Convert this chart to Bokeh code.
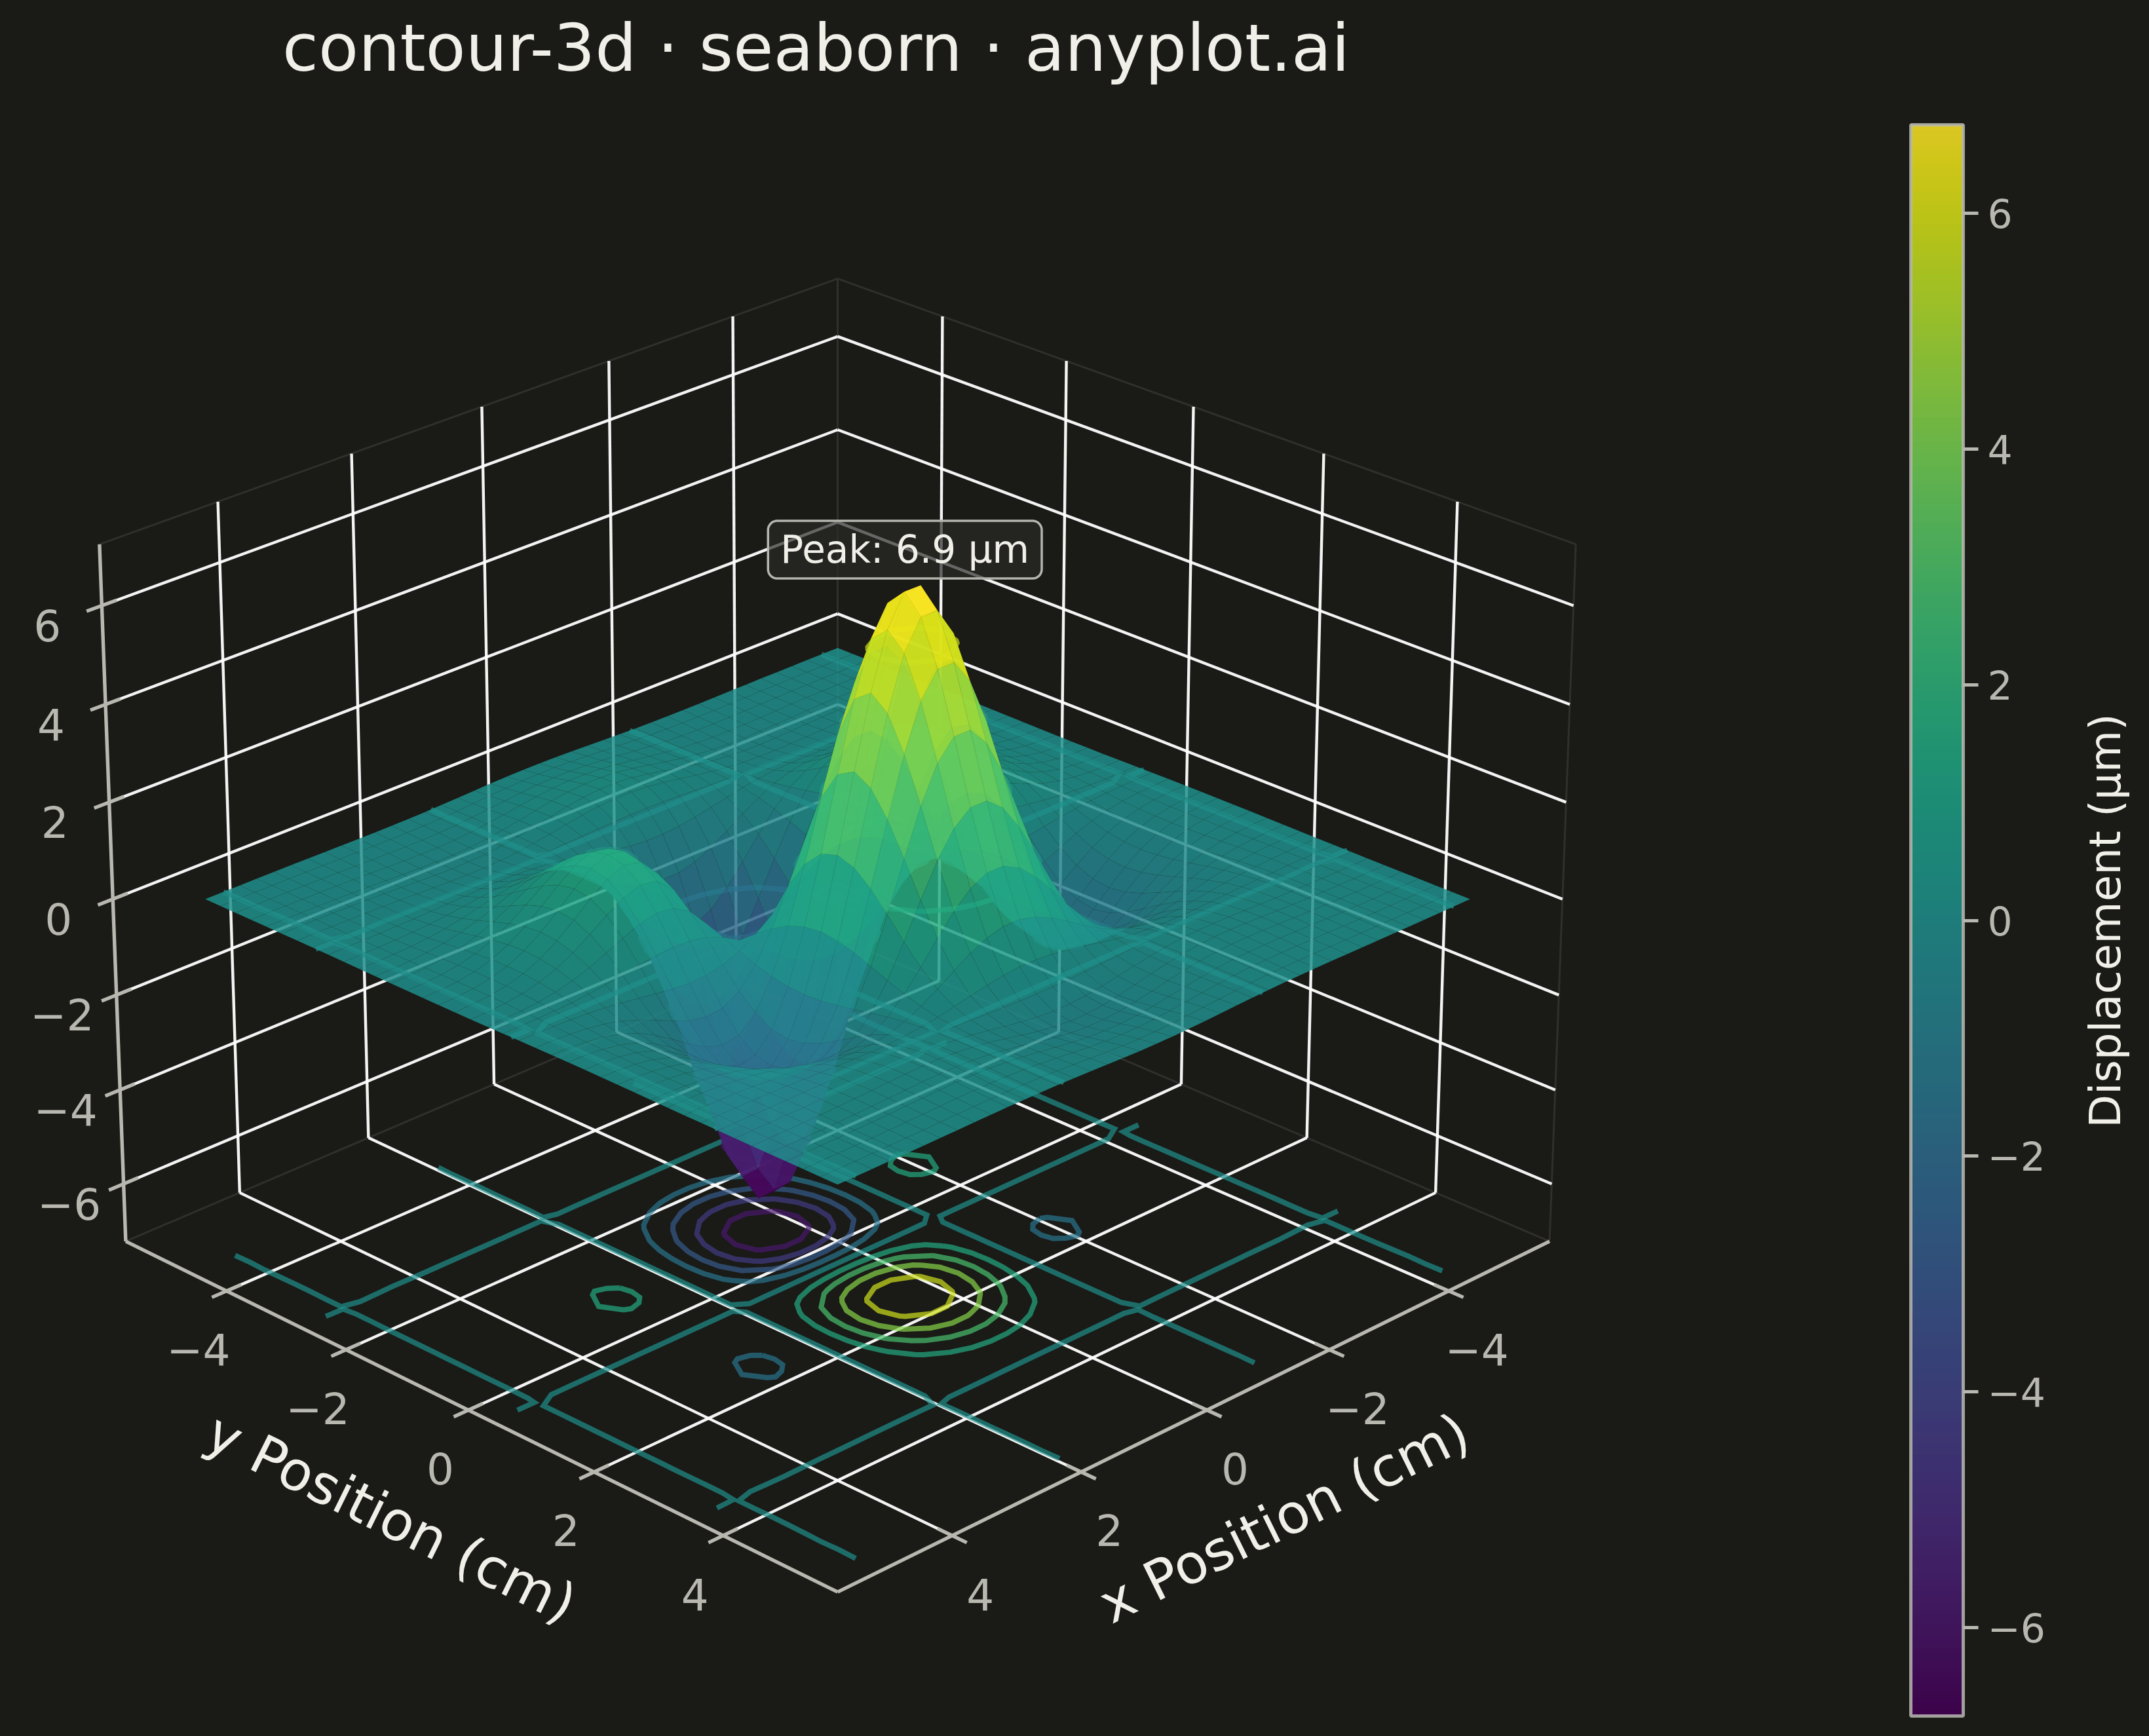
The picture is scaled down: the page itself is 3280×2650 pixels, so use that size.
from collections import defaultdict
import numpy as np
from bokeh.core.properties import value
from bokeh.embed import file_html
from bokeh.models import ColorBar, ColumnDataSource, FixedTicker, Label, LinearColorMapper, Range1d
from bokeh.palettes import Viridis256
from bokeh.plotting import figure
from bokeh.resources import INLINE

# ---------- chart values ----------
title_text = "contour-3d · seaborn · anyplot.ai"
x_label = "x Position (cm)"
y_label = "y Position (cm)"
cbar_label = "Displacement (µm)"
peak_text = "Peak: 6.9 µm"
xy_ticks = [-4, -2, 0, 2, 4]
z_ticks = [-6, -4, -2, 0, 2, 4, 6]
cbar_ticks = [-6, -4, -2, 0, 2, 4, 6]
color_limit = 6.75
contour_levels = [-5.8, -4.3, -2.9, -1.5, 0.0, 1.5, 2.9, 4.3, 5.8]
floor_z = -7.7
peak_x, peak_y, peak_z = 0.128, 1.154, 6.93

grid_pos = [0.128, 0.385, 0.641, 0.897, 1.154, 1.410, 1.667, 1.923, 2.179, 2.436,
            2.692, 2.949, 3.205, 3.462, 3.718, 3.974, 4.231, 4.487, 4.744, 5.0]
# heights (um) for x >= 0 (rows) and y >= 0 (columns); the picture is even in x and odd in y
z_quadrant = [
 [1.258,3.603,5.445,6.574,6.927,6.556,5.645,4.428,3.137,1.954,1.007,.331,-.080,-.282,-.339,-.310,-.244,-.171,-.110,-.063],
 [1.145,3.279,4.956,5.983,6.305,5.967,5.138,4.030,2.855,1.779,.917,.301,-.073,-.256,-.309,-.283,-.222,-.156,-.100,-.058],
 [.940,2.691,4.067,4.910,5.174,4.896,4.216,3.307,2.343,1.460,.752,.247,-.060,-.210,-.253,-.232,-.182,-.128,-.082,-.047],
 [.677,1.937,2.928,3.534,3.725,3.525,3.035,2.381,1.686,1.051,.542,.178,-.043,-.151,-.182,-.167,-.131,-.092,-.059,-.034],
 [.395,1.130,1.708,2.062,2.173,2.057,1.771,1.389,.984,.613,.316,.104,-.025,-.088,-.106,-.097,-.077,-.054,-.034,-.020],
 [.137,.392,.593,.716,.754,.714,.615,.482,.341,.213,.110,.036,-.009,-.031,-.037,-.034,-.027,-.019,-.012,-.007],
 [-.070,-.201,-.303,-.366,-.386,-.365,-.315,-.247,-.175,-.109,-.056,-.018,.004,.016,.019,.017,.014,.010,.006,.004],
 [-.209,-.600,-.906,-1.094,-1.153,-1.091,-.939,-.737,-.522,-.325,-.168,-.055,.013,.047,.056,.052,.041,.028,.018,.011],
 [-.282,-.807,-1.219,-1.472,-1.551,-1.468,-1.264,-.991,-.702,-.438,-.226,-.074,.018,.063,.076,.069,.055,.038,.025,.014],
 [-.296,-.847,-1.280,-1.545,-1.629,-1.541,-1.327,-1.041,-.737,-.459,-.237,-.078,.019,.066,.080,.073,.057,.040,.026,.015],
 [-.269,-.771,-1.164,-1.406,-1.482,-1.402,-1.207,-.947,-.671,-.418,-.215,-.071,.017,.060,.073,.066,.052,.037,.023,.014],
 [-.219,-.628,-.950,-1.146,-1.208,-1.143,-.985,-.772,-.547,-.341,-.176,-.058,.014,.049,.059,.054,.043,.030,.019,.011],
 [-.163,-.467,-.705,-.851,-.897,-.849,-.731,-.573,-.406,-.253,-.130,-.043,.010,.036,.044,.040,.032,.022,.014,.008],
 [-.110,-.315,-.476,-.575,-.605,-.573,-.493,-.387,-.274,-.171,-.088,-.029,.007,.025,.030,.027,.021,.015,.010,.006],
 [-.067,-.192,-.290,-.350,-.369,-.350,-.301,-.236,-.167,-.104,-.054,-.018,.004,.015,.018,.017,.013,.009,.006,.003],
 [-.036,-.104,-.158,-.190,-.200,-.190,-.163,-.128,-.091,-.057,-.029,-.010,.002,.008,.010,.009,.007,.005,.003,.002],
 [-.017,-.047,-.072,-.086,-.091,-.086,-.074,-.058,-.041,-.026,-.013,-.004,.001,.004,.004,.004,.003,.002,.001,.001],
 [-.005,-.015,-.022,-.027,-.028,-.027,-.023,-.018,-.013,-.008,-.004,-.001,.0003,.001,.001,.001,.001,.001,.0004,.0003],
 [.0004,.0013,.0019,.0023,.0025,.0023,.0020,.0016,.0011,.0007,.0004,.0001,-.00003,-.0001,-.00012,-.00011,-.00009,-.00006,-.00004,-.00002],
 [.0024,.0069,.0105,.0126,.0133,.0126,.0109,.0085,.0060,.0038,.0019,.0006,-.00015,-.0005,-.0007,-.0006,-.0005,-.0003,-.0002,-.0001],
]

# ---------- view and style ----------
W, H = 3272, 2642
BG = "#1a1a17"
TICK_COL = "#b8b8b0"
TEXT_COL = "#f0efe8"
FONT = value("DejaVu Sans")
ELEV = np.radians(25.0)
AZ_SQ = np.sqrt(0.5)
BOX_A, BOX_H, DIST = 0.5714, 0.4286, 10.0
SCALE, CX, CY = 13690.0, 1278.0, 1372.0
XY_LIM, Z_LIM = 5.73, 7.23


def project(x, y, z):
    xn = np.asarray(x, float) / XY_LIM * BOX_A
    yn = np.asarray(y, float) / XY_LIM * BOX_A
    zn = np.asarray(z, float) / Z_LIM * BOX_H
    xv = (yn - xn) * AZ_SQ
    yv = -(xn + yn) * AZ_SQ * np.sin(ELEV) + zn * np.cos(ELEV)
    zv = (xn + yn) * AZ_SQ * np.cos(ELEV) + zn * np.sin(ELEV)
    d = DIST - zv
    return CX + SCALE * xv / d, CY - SCALE * yv / d, zv


def seg3(a, b):
    sx, sy, _ = project([a[0], b[0]], [a[1], b[1]], [a[2], b[2]])
    return list(sx), list(sy)


def viridis(v):
    t = np.clip((v + color_limit) / (2 * color_limit), 0, 1)
    return Viridis256[int(round(t * 255))]


def contour_paths(gx, gy, zz, level):
    pts = {}
    adj = defaultdict(list)

    def cross(key, p, q, za, zb):
        f = (level - za) / (zb - za)
        pts[key] = (p[0] + f * (q[0] - p[0]), p[1] + f * (q[1] - p[1]))
        return key

    n, m = zz.shape
    for i in range(n - 1):
        for j in range(m - 1):
            a, b, c, d = zz[i, j], zz[i + 1, j], zz[i + 1, j + 1], zz[i, j + 1]
            pa, pb, pc, pd = (gx[i], gy[j]), (gx[i + 1], gy[j]), (gx[i + 1], gy[j + 1]), (gx[i], gy[j + 1])
            s = [a >= level, b >= level, c >= level, d >= level]
            e = [None] * 4
            if s[0] != s[1]:
                e[0] = cross(("x", i, j), pa, pb, a, b)
            if s[1] != s[2]:
                e[1] = cross(("y", i + 1, j), pb, pc, b, c)
            if s[3] != s[2]:
                e[2] = cross(("x", i, j + 1), pd, pc, d, c)
            if s[0] != s[3]:
                e[3] = cross(("y", i, j), pa, pd, a, d)
            found = [k for k in e if k is not None]
            if len(found) == 2:
                adj[found[0]].append(found[1])
                adj[found[1]].append(found[0])
            elif len(found) == 4:
                centre_hi = (a + b + c + d) / 4 >= level
                pairs = [(0, 3), (1, 2)] if centre_hi != s[0] else [(0, 1), (2, 3)]
                for u, v in pairs:
                    adj[e[u]].append(e[v])
                    adj[e[v]].append(e[u])
    seen = set()
    paths = []
    starts = [k for k in adj if len(adj[k]) == 1] + list(adj)
    for st in starts:
        if st in seen:
            continue
        path = [st]
        seen.add(st)
        cur = st
        while True:
            nxt = [k for k in adj[cur] if k not in seen]
            if not nxt:
                break
            cur = nxt[0]
            seen.add(cur)
            path.append(cur)
        if st in adj[cur] and len(path) > 2:
            path.append(st)
        paths.append([pts[k] for k in path])
    return paths


# ---------- grid ----------
half = np.array(grid_pos)
gx = np.concatenate([-half[::-1], half])
gy = gx.copy()
q = np.array(z_quadrant)
row_half = np.hstack([-q[:, ::-1], q])
Z = np.vstack([row_half[::-1], row_half])

p = figure(width=W, height=H, output_backend="svg", toolbar_location=None,
           x_range=Range1d(0, W), y_range=Range1d(H, 0),
           background_fill_color=BG, border_fill_color=BG, min_border=0)
p.axis.visible = False
p.grid.visible = False
p.outline_line_color = None

L, ZL = XY_LIM, Z_LIM
# panes' faint edges
faint = [((L, -L, -ZL), (-L, -L, -ZL)), ((-L, -L, -ZL), (-L, L, -ZL)),
         ((-L, -L, -ZL), (-L, -L, ZL)), ((-L, L, -ZL), (-L, L, ZL)),
         ((L, -L, ZL), (-L, -L, ZL)), ((-L, -L, ZL), (-L, L, ZL))]
fx, fy = zip(*[seg3(a, b) for a, b in faint])
p.multi_line(list(fx), list(fy), line_color="#302f2b", line_width=3)

# grid lines on the floor and the walls
gl = []
for t in xy_ticks:
    gl.append(seg3((t, -L, -ZL), (t, L, -ZL)))
    gl.append(seg3((-L, t, -ZL), (L, t, -ZL)))
    gl.append(seg3((t, -L, -ZL), (t, -L, ZL)))
    gl.append(seg3((-L, t, -ZL), (-L, t, ZL)))
for t in z_ticks:
    gl.append(seg3((L, -L, t), (-L, -L, t)))
    gl.append(seg3((-L, -L, t), (-L, L, t)))
gx_l, gy_l = zip(*gl)
p.multi_line(list(gx_l), list(gy_l), line_color="#ffffff", line_width=4.4, line_alpha=0.95)

# axis lines and ticks
axl = [seg3((L, L, -ZL), (L, -L, -ZL)), seg3((L, L, -ZL), (-L, L, -ZL)), seg3((L, -L, -ZL), (L, -L, ZL))]
tick_out = 0.22
for t in xy_ticks:
    axl.append(seg3((L - tick_out, t, -ZL), (L + tick_out, t, -ZL)))
    axl.append(seg3((t, L - tick_out, -ZL), (t, L + tick_out, -ZL)))
for t in z_ticks:
    axl.append(seg3((L - tick_out, -L, t), (L + tick_out, -L, t)))
ax_x, ax_y = zip(*axl)
p.multi_line(list(ax_x), list(ax_y), line_color=TICK_COL, line_width=5.4)

# contours on the floor, then on the surface itself, both below the translucent surface
for height_mode in ("floor", "surface"):
    xs, ys, cols = [], [], []
    for lev in contour_levels:
        for path in contour_paths(gx, gy, Z, lev):
            arr = np.array(path)
            zval = np.full(len(arr), floor_z if height_mode == "floor" else lev)
            sx, sy, _ = project(arr[:, 0], arr[:, 1], zval)
            xs.append(list(sx))
            ys.append(list(sy))
            cols.append(viridis(lev))
    p.multi_line(xs, ys, line_color=cols, line_width=8, line_alpha=0.7, line_join="miter")

# surface facets, far ones first
XX, YY = np.meshgrid(gx, gy, indexing="ij")
SX, SY, DEPTH = project(XX, YY, Z)
faces = []
for i in range(len(gx) - 1):
    for j in range(len(gy) - 1):
        ids = [(i, j), (i + 1, j), (i + 1, j + 1), (i, j + 1)]
        depth = np.mean([DEPTH[k] for k in ids])
        mean_z = np.mean([Z[k] for k in ids])
        faces.append((depth, [SX[k] for k in ids], [SY[k] for k in ids], viridis(mean_z)))
faces.sort(key=lambda f: f[0])
src = ColumnDataSource(dict(xs=[f[1] for f in faces], ys=[f[2] for f in faces], col=[f[3] for f in faces]))
p.patches("xs", "ys", source=src, fill_color="col", fill_alpha=0.85,
          line_color=BG, line_alpha=0.08, line_width=0.8)

# tick labels
minus = lambda t: str(t).replace("-", "\u2212")
tx, ty, _ = project(xy_ticks, [L] * 5, [-ZL] * 5)
p.text(list(tx), list(ty), text=[minus(t) for t in xy_ticks], x_offset=43, y_offset=89,
       text_align="center", text_baseline="middle", text_font=FONT, text_font_size="66px", text_color=TICK_COL)
tx, ty, _ = project([L] * 5, xy_ticks, [-ZL] * 5)
p.text(list(tx), list(ty), text=[minus(t) for t in xy_ticks], x_offset=-43, y_offset=89,
       text_align="center", text_baseline="middle", text_font=FONT, text_font_size="66px", text_color=TICK_COL)
tx, ty, _ = project([L] * 7, [-L] * 7, z_ticks)
p.text(list(tx), list(ty), text=[minus(t) for t in z_ticks], x_offset=-83, y_offset=30,
       text_align="center", text_baseline="middle", text_font=FONT, text_font_size="66px", text_color=TICK_COL)

# axis titles
lx, ly, _ = project([L], [0], [-ZL])
p.text(list(lx), list(ly), text=[y_label], angle=np.radians(-26.3), x_offset=-118, y_offset=165,
       text_align="center", text_baseline="middle",
       text_font=FONT, text_font_size="83px", text_color=TEXT_COL)
lx, ly, _ = project([0], [L], [-ZL])
p.text(list(lx), list(ly), text=[x_label], angle=np.radians(26.3), x_offset=118, y_offset=165,
       text_align="center", text_baseline="middle",
       text_font=FONT, text_font_size="83px", text_color=TEXT_COL)

# title and colour bar label
p.text([1245], [73], text=[title_text], text_align="center", text_baseline="middle",
       text_font=FONT, text_font_size="99.9px", text_color=TEXT_COL)
p.text([3213], [1405], text=[cbar_label], angle=np.pi / 2, text_align="center", text_baseline="middle",
       text_font=FONT, text_font_size="66px", text_color=TEXT_COL)

# peak annotation
px, py, _ = project([peak_x], [peak_y], [peak_z])
p.add_layout(Label(x=float(px[0]) + 1, y=float(py[0]) - 64, text=peak_text, text_align="center", text_baseline="middle",
                   text_font="DejaVu Sans", text_font_size="58px", text_color=TEXT_COL,
                   background_fill_color="#2a2a26", background_fill_alpha=0.7,
                   border_line_color="#b5b5ae", border_line_width=3.5, border_radius=14, padding=[19, 10]))

# colour bar
mapper = LinearColorMapper(palette=Viridis256, low=-color_limit, high=color_limit)
cb = ColorBar(color_mapper=mapper, location=(2916, H - 2619), width=80, height=2429, padding=0,
              scale_alpha=0.85, ticker=FixedTicker(ticks=cbar_ticks),
              major_label_overrides={t: minus(t) for t in cbar_ticks},
              major_label_text_font="DejaVu Sans", major_label_text_font_size="60px",
              major_label_text_color=TICK_COL, label_standoff=14,
              bar_line_color=TICK_COL, bar_line_width=5,
              major_tick_in=0, major_tick_out=23, major_tick_line_color=TICK_COL, major_tick_line_width=5,
              minor_tick_out=0, minor_tick_in=0, minor_tick_line_color=None,
              background_fill_alpha=0, border_line_color=None)
p.add_layout(cb, "center")

html = file_html(p, INLINE).replace("<head>", f"<head><style>html,body{{background:{BG}}}</style>", 1)
open("out.html", "w").write(html)
